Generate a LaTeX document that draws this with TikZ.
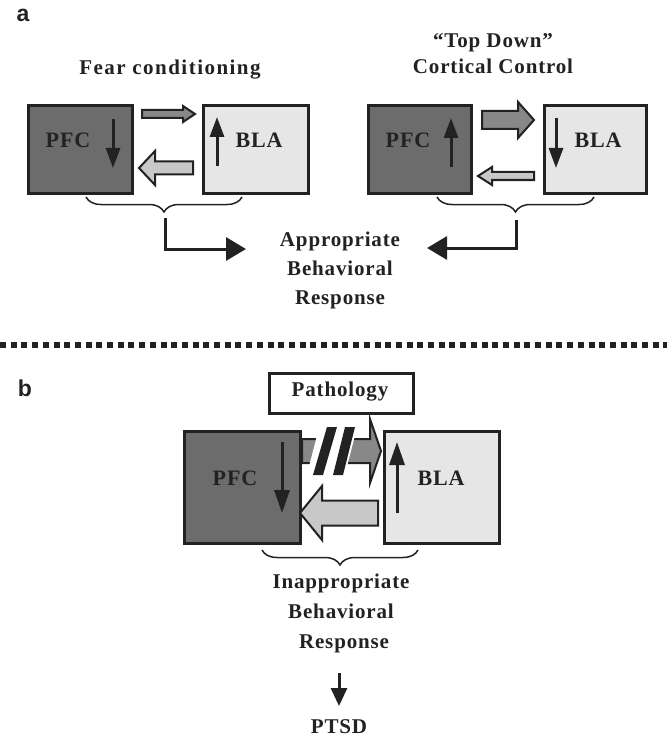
\documentclass[tikz,border=0pt]{standalone}
\usepackage{fontspec}
\setmainfont[LetterSpace=4]{Liberation Serif}
\newfontfamily\sansb{Liberation Sans}
\usetikzlibrary{arrows.meta,decorations.pathreplacing}
\definecolor{pfcgray}{HTML}{6C6C6C}
\definecolor{blagray}{HTML}{E6E6E6}
\definecolor{arrmid}{HTML}{888888}
\definecolor{arrlight}{HTML}{C8C8C8}
\definecolor{ink}{HTML}{222222}
\tikzset{
  lbl/.style={font=\fontsize{21}{29}\selectfont\bfseries, align=center, inner sep=0pt, text=ink},
  boxlbl/.style={font=\fontsize{22}{22}\selectfont\bfseries, inner sep=0pt, text=ink},
  pfcbox/.style={draw=ink, line width=3pt, fill=pfcgray, anchor=north west, inner sep=0pt},
  blabox/.style={draw=ink, line width=3pt, fill=blagray, anchor=north west, inner sep=0pt},
  inarrow/.style={draw=ink, line width=3pt, -{Triangle[width=14pt,length=20pt]}},
  elbow/.style={draw=ink, line width=3pt, -{Triangle[width=23pt,length=20pt]}},
  bracestyle/.style={draw=ink, line width=1.5pt, decorate, decoration={brace, mirror, amplitude=15pt}},
  blockarrow/.style={draw=ink, line width=2pt, line join=miter},
}
% block arrow: #1 tail x, #2 head-base x, #3 tip x, #4 centre y, #5 shaft half, #6 head half, #7 fill
\newcommand{\blkarrow}[7]{%
  \path[blockarrow, fill=#7] (#1,{#4-#5}) -- (#2,{#4-#5}) -- (#2,{#4-#6}) -- (#3,#4)
    -- (#2,{#4+#6}) -- (#2,{#4+#5}) -- (#1,{#4+#5}) -- cycle;}
\begin{document}
\begin{tikzpicture}[x=1pt,y=-1pt]
\useasboundingbox[fill=white] (0,0) rectangle (667,738);

% ---------- panel a ----------
\node[font=\sansb\fontsize{23}{23}\selectfont\bfseries, text=ink, inner sep=0pt] (la) at (23,15) {a};

\node[lbl, font=\fontsize{21}{29}\selectfont\bfseries\addfontfeature{LetterSpace=7}] (fear) at (170,70) {Fear conditioning};
\node[lbl, font=\fontsize{21}{26}\selectfont\bfseries] (top) at (493,54) {``Top Down''\\Cortical Control};

% left pair
\node[pfcbox, minimum width=104pt, minimum height=88pt] (pfcA) at (27,104) {};
\node[blabox, minimum width=105pt, minimum height=88pt] (blaA) at (202,104) {};
\node[boxlbl] (pfcAt) at (68,140) {PFC};
\node[boxlbl] (blaAt) at (259,140) {BLA};
\draw[inarrow] (113,119) -- (113,168);
\draw[inarrow] (217,166) -- (217,117);
\blkarrow{142}{183}{195}{114}{4}{8}{arrmid}
\blkarrow{193}{155}{139}{168}{6.5}{17}{arrlight}

% right pair
\node[pfcbox, minimum width=103pt, minimum height=88pt] (pfcB) at (367,104) {};
\node[blabox, minimum width=102pt, minimum height=88pt] (blaB) at (543,104) {};
\node[boxlbl] (pfcBt) at (408,140) {PFC};
\node[boxlbl] (blaBt) at (598,140) {BLA};
\draw[inarrow] (451,167) -- (451,118);
\draw[inarrow] (556,118) -- (556,168);
\blkarrow{482}{518}{534}{120}{9}{18}{arrmid}
\blkarrow{534}{492}{478}{176}{4}{9}{arrlight}

% braces
\draw[bracestyle] (86,197) -- (242,197);
\draw[bracestyle] (437,197) -- (594,197);

% response text
\node[lbl] (resp) at (340,270) {Appropriate\\Behavioral\\Response};

\coordinate (bA) at (165,218);
\coordinate (eA) at (246,249);
\coordinate (bB) at (516,220);
\coordinate (eB) at (427,248);
\draw[elbow] (bA) |- (eA);
\draw[elbow] (bB) |- (eB);

% ---------- separator ----------
\draw[ink, line width=6pt, dash pattern=on 6pt off 4.7pt] (0,345) -- (667,345);

% ---------- panel b ----------
\node[font=\sansb\fontsize{23}{23}\selectfont\bfseries, text=ink, inner sep=0pt] (lb) at (25,388) {b};

\node[draw=ink, line width=3pt, fill=white, minimum width=144pt, minimum height=40pt, anchor=north west, inner sep=0pt] (path) at (268,372) {};
\node[lbl] (patht) at (340,392) {Pathology};

\node[pfcbox, minimum width=116pt, minimum height=112pt] (pfcC) at (183,430) {};
\node[blabox, minimum width=115pt, minimum height=112pt] (blaC) at (383,430) {};
\node[boxlbl] (pfcCt) at (235,478) {PFC};
\node[boxlbl] (blaCt) at (441,478) {BLA};
\draw[inarrow, -{Triangle[width=15pt,length=23pt]}] (282,442) -- (282,513);
\draw[inarrow, -{Triangle[width=15pt,length=23pt]}] (397,513) -- (397,442);

% top (broken) arrow
\blkarrow{302}{370}{381}{451}{12}{32}{arrmid}
\fill[white] (320,424) -- (358,424) -- (344,478) -- (306,478) -- cycle;
\fill[ink] (327,427) -- (337,427) -- (323,475) -- (313,475) -- cycle;
\fill[ink] (345,427) -- (355,427) -- (343,475) -- (333,475) -- cycle;

% bottom arrow
\blkarrow{378}{322}{300}{513}{12.5}{27}{arrlight}

\draw[bracestyle] (262,550) -- (418,550);

\node[lbl, font=\fontsize{21}{30}\selectfont\bfseries] (resp2) at (341,613) {Inappropriate\\Behavioral\\\ Response};
\coordinate (pa) at (339,673);
\coordinate (pb) at (339,706);
\node[lbl] (ptsd) at (339,727) {PTSD};
\draw[draw=ink, line width=3pt, -{Triangle[width=16pt,length=18pt]}] (pa) -- (pb);
\end{tikzpicture}
\end{document}
